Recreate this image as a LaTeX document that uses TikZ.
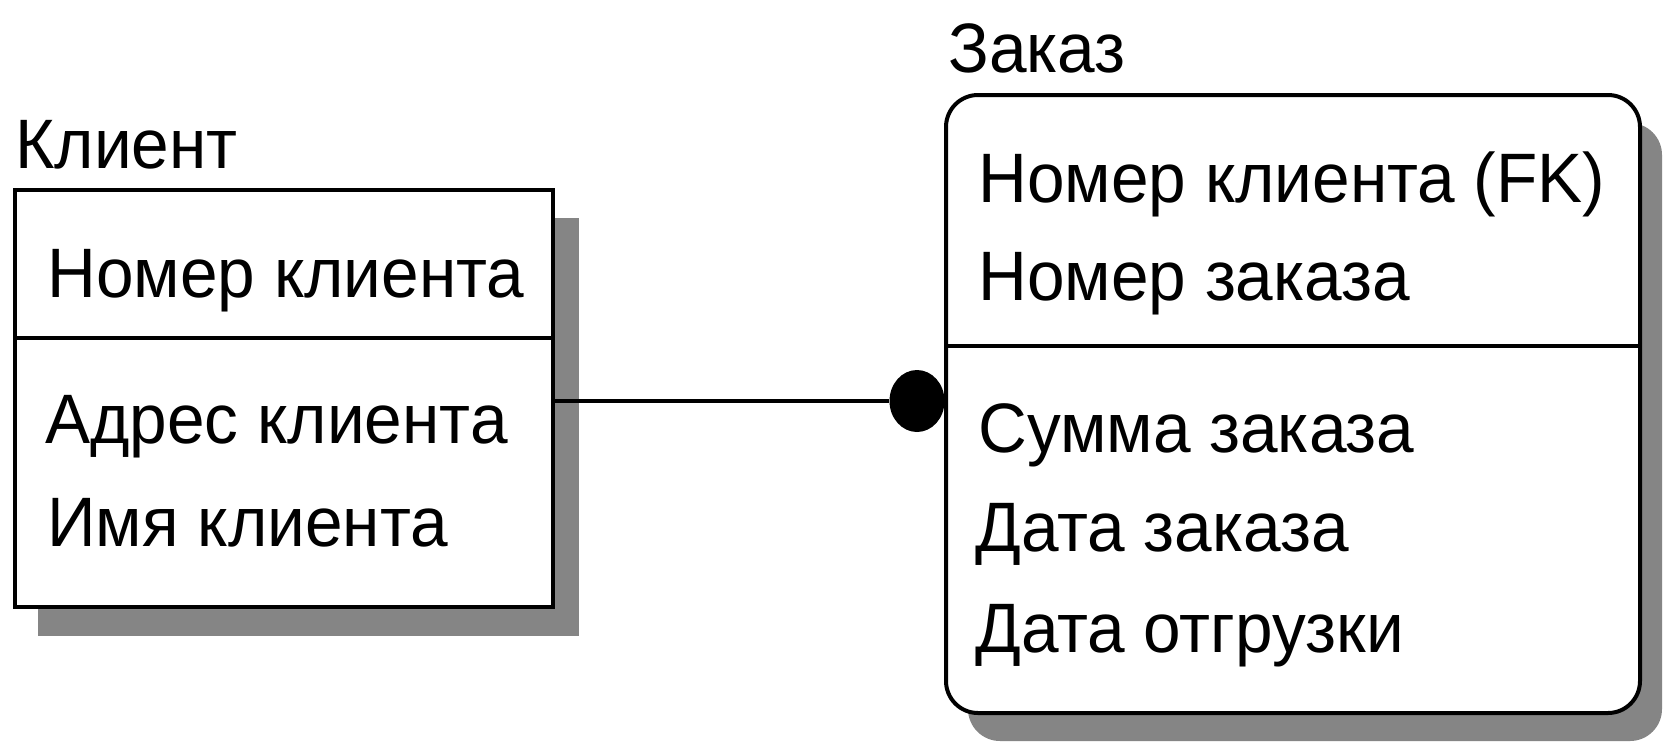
\documentclass[tikz,border=0pt]{standalone}
\usepackage{fontspec}
\setmainfont{Liberation Sans}[FakeStretch=0.965]
\usetikzlibrary{shapes.geometric}
\begin{document}
\begin{tikzpicture}[x=0.5pt,y=-0.5pt,
  entity/.style={draw, line width=2pt, fill=white, inner sep=0pt, outer sep=0pt, anchor=north west},
  shade/.style={fill=black!48, draw=none},
  txt/.style={anchor=base west, inner sep=0pt, font=\fontsize{35}{40}\selectfont},
  conn/.style={line width=1.6pt},
  divider/.style={line width=2pt}]
\useasboundingbox (0,0) rectangle (1671,745);
\fill[white] (0,0) rectangle (1671,745);
% shadows
\fill[shade] (38,218) rectangle (579,636);
\fill[shade, rounded corners=16pt] (968,123) rectangle (1662,741);
% entity boxes
\node[entity, minimum width=269pt, minimum height=208.5pt] (klient) at (15,190) {};
\node[entity, rounded corners=16pt, minimum width=347pt, minimum height=309pt] (zakaz) at (946,95) {};
% dividers
\coordinate (kdiv) at (0,338);
\coordinate (zdiv) at (0,346);
\draw[divider] (klient.west |- kdiv) -- (klient.east |- kdiv);
\draw[divider] (zakaz.west |- zdiv) -- (zakaz.east |- zdiv);
% relationship
\node[ellipse, fill=black, minimum width=27.5pt, minimum height=31pt, inner sep=0pt] (dot) at (917,401) {};
\draw[conn] (klient.east |- dot) -- (dot.west);
% titles
\node[txt] (tklient) at (15,168) {Клиент};
\node[txt] (tzakaz) at (948,72) {Заказ};
% attributes of Клиент
\node[txt] (k1) at (47,297) {Номер клиента};
\node[txt] (k2) at (45,443) {Адрес клиента};
\node[txt] (k3) at (47,546) {Имя клиента};
% attributes of Заказ
\node[txt] (z1) at (978,202) {Номер клиента (FK)};
\node[txt] (z2) at (978,300) {Номер заказа};
\node[txt] (z3) at (978,452) {Сумма заказа};
\node[txt] (z4) at (975,551) {Дата заказа};
\node[txt] (z5) at (975,652) {Дата отгрузки};
\end{tikzpicture}
\end{document}
